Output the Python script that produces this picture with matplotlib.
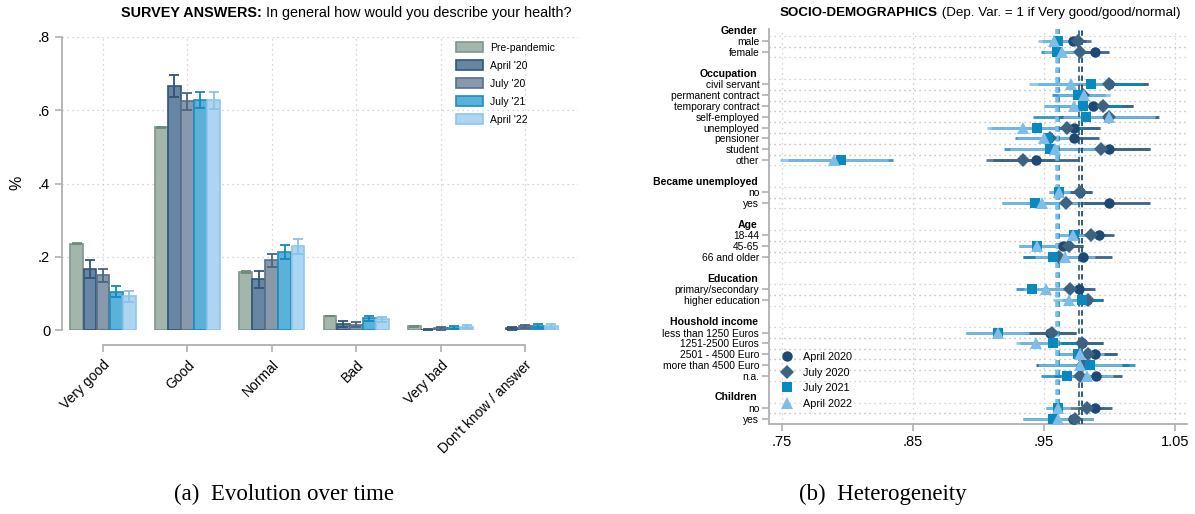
import matplotlib.pyplot as plt
import numpy as np

plt.rcParams['font.family'] = ['Liberation Sans', 'DejaVu Sans']

# ---- panel (a): survey answers ----
answers = ["Very good", "Good", "Normal", "Bad", "Very bad", "Don't know / answer"]
waves = ["Pre-pandemic", "April '20", "July '20", "July '21", "April '22"]
share_pre = [0.236, 0.553, 0.158, 0.038, 0.010, 0.0]
share_apr20 = [0.166, 0.665, 0.138, 0.017, 0.001, 0.005]
share_jul20 = [0.149, 0.624, 0.190, 0.015, 0.005, 0.010]
share_jul21 = [0.105, 0.629, 0.212, 0.032, 0.006, 0.011]
share_apr22 = [0.092, 0.627, 0.228, 0.029, 0.009, 0.011]
err_pre = [0.002, 0.002, 0.002, 0.001, 0.001, 0.0]
err_apr20 = [0.024, 0.030, 0.022, 0.008, 0.002, 0.004]
err_jul20 = [0.017, 0.023, 0.018, 0.007, 0.004, 0.005]
err_jul21 = [0.014, 0.022, 0.019, 0.007, 0.004, 0.005]
err_apr22 = [0.015, 0.023, 0.020, 0.007, 0.004, 0.005]

bar_face = ['#a2b6ab', '#6885a3', '#8799aa', '#5cb1d8', '#acd5f1']
bar_edge = ['#7d978a', '#2e5579', '#56708a', '#1c8dc2', '#8ec6ec']
err_col = ['#6f8a7c', '#2e5579', '#4a6580', '#1088c0', '#88c2ea']

# ---- panel (b): heterogeneity ----
groups = [
    ("Gender", ["male", "female"]),
    ("Occupation", ["civil servant", "permanent contract", "temporary contract", "self-employed",
                    "unemployed", "pensioner", "student", "other"]),
    ("Became unemployed", ["no", "yes"]),
    ("Age", ["18-44", "45-65", "66 and older"]),
    ("Education", ["primary/secondary", "higher education"]),
    ("Houshold income", ["less than 1250 Euros", "1251-2500 Euros", "2501 - 4500 Euro",
                         "more than 4500 Euro", "n.a."]),
    ("Children", ["no", "yes"]),
]
series = ["April 2020", "July 2020", "July 2021", "April 2022"]
est_apr20 = [0.972, 0.989, 1.000, 0.979, 0.988, 0.999, 0.973, 0.973, 1.000, 0.944, 0.978, 1.000,
             0.992, 0.965, 0.980, 0.977, 0.983, 0.955, 0.979, 0.989, 0.979, 0.990, 0.989, 0.972]
est_jul20 = [0.976, 0.978, 1.000, 0.980, 0.995, 1.000, 0.968, 0.955, 0.994, 0.934, 0.978, 0.967,
             0.986, 0.969, 0.962, 0.970, 0.984, 0.956, 0.979, 0.984, 0.980, 0.978, 0.983, 0.974]
est_jul21 = [0.961, 0.960, 0.986, 0.976, 0.980, 0.982, 0.945, 0.953, 0.955, 0.795, 0.962, 0.943,
             0.973, 0.945, 0.957, 0.941, 0.979, 0.915, 0.957, 0.976, 0.985, 0.968, 0.961, 0.957]
est_apr22 = [0.958, 0.964, 0.971, 0.981, 0.973, 1.000, 0.934, 0.950, 0.959, 0.790, 0.962, 0.949,
             0.972, 0.945, 0.966, 0.952, 0.969, 0.915, 0.944, 0.978, 0.978, 0.983, 0.961, 0.961]
hw_apr20 = [0.010, 0.011, 0.030, 0.018, 0.030, 0.038, 0.020, 0.019, 0.031, 0.033, 0.009, 0.031,
            0.012, 0.015, 0.022, 0.012, 0.012, 0.020, 0.016, 0.017, 0.035, 0.020, 0.013, 0.016]
hw_jul20 = [0.010, 0.012, 0.030, 0.017, 0.023, 0.038, 0.025, 0.025, 0.037, 0.028, 0.009, 0.030,
            0.012, 0.011, 0.028, 0.017, 0.011, 0.019, 0.016, 0.022, 0.035, 0.020, 0.013, 0.014]
hw_jul21 = [0.012, 0.012, 0.040, 0.020, 0.030, 0.040, 0.035, 0.025, 0.035, 0.040, 0.008, 0.025,
            0.013, 0.014, 0.023, 0.012, 0.015, 0.024, 0.025, 0.016, 0.035, 0.020, 0.009, 0.023]
hw_apr22 = [0.012, 0.014, 0.032, 0.020, 0.023, 0.035, 0.027, 0.020, 0.035, 0.041, 0.008, 0.031,
            0.012, 0.014, 0.023, 0.017, 0.012, 0.024, 0.015, 0.018, 0.032, 0.020, 0.009, 0.027]
means = [0.979, 0.977, 0.961, 0.960]

pt_col = ['#1c4a74', '#3d6383', '#0a89c1', '#7dbde8']
pt_mark = ['o', 'D', 's', '^']
pt_size = [7.5, 7, 7.5, 8.5]

fig = plt.figure(figsize=(11.95, 5.14), dpi=100)
W, H = 1195, 514

# ================= panel (a) =================
ax = fig.add_axes([62 / W, 1 - 330 / H, (578 - 62) / W, (330 - 37) / H])
x = np.arange(len(answers))
shares = [share_pre, share_apr20, share_jul20, share_jul21, share_apr22]
errs = [err_pre, err_apr20, err_jul20, err_jul21, err_apr22]
bw = 0.152
for k in range(5):
    xs = x + (k - 2) * 0.155
    vals = np.array(shares[k])
    keep = vals > 0
    ax.bar(xs[keep], vals[keep], width=bw, color=bar_face[k], edgecolor=bar_edge[k],
           linewidth=1.2, label=waves[k], zorder=3)
    e = np.array(errs[k])
    ax.errorbar(xs[keep], vals[keep], yerr=e[keep], fmt='none', ecolor=err_col[k],
                elinewidth=1.3, capsize=3.5, capthick=1.3, zorder=4)

for s in ['top', 'right']:
    ax.spines[s].set_visible(False)
ax.spines['left'].set_color('#b0b0b0')
ax.spines['left'].set_linewidth(1.3)
ax.spines['bottom'].set_position(('outward', 11))
ax.spines['bottom'].set_bounds(0, 5)
ax.spines['bottom'].set_color('#b0b0b0')
ax.spines['bottom'].set_linewidth(1.3)

ax.set_xlim(-0.486, 5.628)
ax.set_ylim(0, 0.8)
ax.set_yticks([0, 0.2, 0.4, 0.6, 0.8])
ax.set_yticklabels(['0', '.2', '.4', '.6', '.8'], fontsize=10.5)
ax.set_xticks(x)
ax.set_xticklabels(answers, rotation=45, ha='right', rotation_mode='anchor', fontsize=10)
ax.grid(True, linestyle=(0, (1, 3)), color='#c8c8c8', linewidth=0.9, zorder=0)
ax.tick_params(axis='both', colors='#b0b0b0', labelcolor='black', length=5, width=1.2)
ax.tick_params(axis='x', pad=4)
fig.text(17 / W, 1 - 183 / H, '%', fontsize=11.5, ha='center', va='center', rotation=90)
ax.legend(loc='upper left', bbox_to_anchor=(0.745, 1.015), frameon=False, fontsize=7.5,
          handlelength=2.6, handleheight=1.1, labelspacing=0.72, handletextpad=0.7)

# ================= panel (b) =================
bx = fig.add_axes([769 / W, 1 - 424 / H, (1187 - 769) / W, (424 - 29) / H])
item_pos, item_lab, head_pos, head_lab = [], [], [], []
p = 0
for head, items in groups:
    head_pos.append(p)
    head_lab.append(head)
    p += 1
    for it in items:
        item_pos.append(p)
        item_lab.append(it)
        p += 1
    p += 1
item_pos = np.array(item_pos)

for yy in item_pos:
    for g in (yy - 0.5, yy + 0.5):
        bx.axhline(g, color='#c8c8c8', linestyle=(0, (1, 3)), linewidth=0.9, zorder=0)
for gx in [0.75, 0.85, 0.95, 1.05]:
    bx.axvline(gx, color='#c8c8c8', linestyle=(0, (1, 3)), linewidth=0.9, zorder=0)

ests = [est_apr20, est_jul20, est_jul21, est_apr22]
hws = [hw_apr20, hw_jul20, hw_jul21, hw_apr22]
for k in range(4):
    e = np.array(ests[k])
    h = np.array(hws[k])
    bx.hlines(item_pos, e - h, e + h, color=pt_col[k], linewidth=2, alpha=0.85, zorder=2)
for k in range(4):
    bx.axvline(means[k], color=pt_col[k], linestyle=(0, (3, 2)) if k < 2 else (0, (1.5, 1.2)),
               linewidth=1.3 if k < 2 else 2.6, zorder=3)
for k in range(4):
    bx.plot(ests[k], item_pos, linestyle='none', marker=pt_mark[k], markersize=pt_size[k],
            color=pt_col[k], markeredgewidth=0, label=series[k], zorder=4)

bx.set_xlim(0.7403, 1.0594)
bx.set_ylim(36.48, -0.14)
bx.set_xticks([0.75, 0.85, 0.95, 1.05])
bx.set_xticklabels(['.75', '.85', '.95', '1.05'], fontsize=10.5)
bx.set_yticks(item_pos)
bx.set_yticklabels(item_lab, fontsize=7.4)
for hp, hl in zip(head_pos, head_lab):
    bx.text(-0.027, hp, hl, transform=bx.get_yaxis_transform(), ha='right', va='center',
            fontsize=7.6, fontweight='bold')
for s in ['top', 'right']:
    bx.spines[s].set_visible(False)
for s in ['left', 'bottom']:
    bx.spines[s].set_color('#b0b0b0')
    bx.spines[s].set_linewidth(1.3)
bx.tick_params(axis='both', colors='#b0b0b0', labelcolor='black', width=1.2)
bx.tick_params(axis='y', length=5, pad=2)
bx.tick_params(axis='x', length=5, pad=3)
bx.legend(loc='lower left', bbox_to_anchor=(0.0, 0.02), frameon=False, fontsize=7.8,
          labelspacing=0.5, handletextpad=0.4, borderaxespad=0.3)

# ---- titles with bold lead ----
renderer = fig.canvas.get_renderer()


def two_part_title(xc, y, bold, rest, size):
    t1 = fig.text(0, y, bold, fontweight='bold', fontsize=size, va='center')
    t2 = fig.text(0, y, rest, fontsize=size, va='center')
    w1 = t1.get_window_extent(renderer).width
    w2 = t2.get_window_extent(renderer).width
    x0 = xc - (w1 + w2) / 2
    t1.set_x(x0 / W)
    t2.set_x((x0 + w1) / W)


two_part_title(346, 1 - 13 / H, "SURVEY ANSWERS:", " In general how would you describe your health?", 10.4)
two_part_title(980, 1 - 13 / H, "SOCIO-DEMOGRAPHICS", " (Dep. Var. = 1 if Very good/good/normal)", 9.6)

fig.text(284 / W, 1 - 494 / H, "(a)  Evolution over time", fontsize=16.5, ha='center', va='center',
         family=['Liberation Serif', 'DejaVu Serif'])
fig.text(883 / W, 1 - 494 / H, "(b)  Heterogeneity", fontsize=16.5, ha='center', va='center',
         family=['Liberation Serif', 'DejaVu Serif'])

fig.savefig('out.png', dpi=100)
